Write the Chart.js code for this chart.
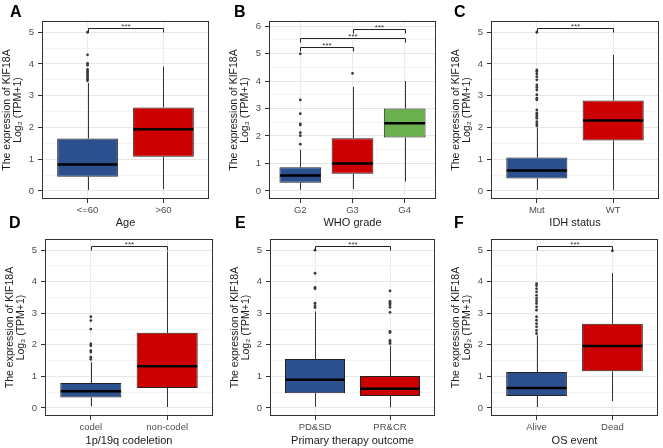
<!DOCTYPE html>
<html>
<head>
<meta charset="utf-8">
<script src="https://cdn.jsdelivr.net/npm/chart.js@4.4.1/dist/chart.umd.min.js"></script>
<style>
  body { margin: 0; width: 663px; height: 448px; background: #fff; position: relative; overflow: hidden; }
  canvas.panel { position: absolute; }
  .tag { position: absolute; font: bold 16px/16px "Liberation Sans", Arial, sans-serif; color: #000; z-index: 5; }
</style>
</head>
<body>
<div class="tag" style="left:10px;top:4px">A</div>
<div class="tag" style="left:234px;top:4px">B</div>
<div class="tag" style="left:454px;top:4px">C</div>
<div class="tag" style="left:9px;top:215px">D</div>
<div class="tag" style="left:235px;top:215px">E</div>
<div class="tag" style="left:454px;top:215px">F</div>

<script>
// box stats: [lower whisker, Q1, median, Q3, upper whisker]
const ageGroups = ['<=60', '>60'];
const ageBoxes = [[0.03, 0.45, 0.83, 1.65, 3.4], [0.05, 1.08, 1.94, 2.63, 3.92]];
const ageOutliers = [[3.47, 3.52, 3.57, 3.62, 3.68, 3.74, 3.78, 3.83, 3.96, 4.02, 4.29, 5.0], []];
const ageSig = [[1, 2, 5.12]];

const gradeGroups = ['G2', 'G3', 'G4'];
const gradeBoxes = [[0.04, 0.30, 0.56, 0.86, 1.5], [0.07, 0.62, 1.0, 1.92, 3.79], [0.34, 1.94, 2.46, 3.0, 4.0]];
const gradeOutliers = [[1.70, 2.01, 2.12, 2.40, 2.44, 2.81, 3.31, 4.99], [4.28], []];
const gradeSig = [[1, 2, 5.25], [1, 3, 5.55], [2, 3, 5.89]];

const idhGroups = ['Mut', 'WT'];
const idhBoxes = [[0.03, 0.39, 0.64, 1.05, 2.0], [0.03, 1.59, 2.22, 2.85, 4.29]];
const idhOutliers = [[2.05, 2.11, 2.18, 2.29, 2.34, 2.39, 2.45, 2.55, 2.87, 2.92, 3.03, 3.18, 3.26, 3.34, 3.50, 3.60, 3.69, 3.76, 3.81, 5.0], []];
const idhSig = [[1, 2, 5.13]];

const codelGroups = ['codel', 'non-codel'];
const codelBoxes = [[0.05, 0.33, 0.53, 0.79, 1.45], [0.03, 0.63, 1.32, 2.38, 4.96]];
const codelOutliers = [[1.54, 1.61, 1.77, 1.82, 1.97, 2.03, 2.5, 2.77, 2.89], []];
const codelSig = [[1, 2, 5.12]];

const therapyGroups = ['PD&SD', 'PR&CR'];
const therapyBoxes = [[0.04, 0.47, 0.89, 1.55, 3.06], [0.02, 0.38, 0.61, 1.01, 1.97]];
const therapyOutliers = [[3.18, 3.24, 3.32, 3.78, 3.82, 4.27, 5.0], [2.04, 2.09, 2.14, 2.39, 2.43, 3.03, 3.19, 3.26, 3.32, 3.38, 3.71]];
const therapySig = [[1, 2, 5.12]];

const osGroups = ['Alive', 'Dead'];
const osBoxes = [[0.03, 0.38, 0.63, 1.14, 2.3], [0.22, 1.16, 1.96, 2.67, 4.28]];
const osOutliers = [[2.36, 2.46, 2.57, 2.67, 2.78, 2.89, 3.1, 3.2, 3.31, 3.39, 3.47, 3.57, 3.68, 3.78, 3.88, 3.94], [4.98]];
const osSig = [[1, 2, 5.13]];

const yTicksTo5 = [0, 0.5, 1, 1.5, 2, 2.5, 3, 3.5, 4, 4.5, 5];
const yTicksTo6 = [0, 0.5, 1, 1.5, 2, 2.5, 3, 3.5, 4, 4.5, 5, 5.5, 6];

const BLUE = '#2C4F8E', RED = '#CC0000', GREEN = '#6AB04C';
const FONT = '"Liberation Sans", Arial, sans-serif';

Chart.defaults.font.family = FONT;

// plot area: [left, right, top, bottom] in page pixels
const panels = [
  { groups: ageGroups, boxes: ageBoxes, outliers: ageOutliers, sig: ageSig, xTitle: 'Age',
    colors: [BLUE, RED], yTicks: yTicksTo5, yMin: -0.255, yMax: 5.355, area: [42, 211, 21, 199], row: 0 },
  { groups: gradeGroups, boxes: gradeBoxes, outliers: gradeOutliers, sig: gradeSig, xTitle: 'WHO grade',
    colors: [BLUE, RED, GREEN], yTicks: yTicksTo6, yMin: -0.295, yMax: 6.185, area: [269, 438, 21, 199], row: 0 },
  { groups: idhGroups, boxes: idhBoxes, outliers: idhOutliers, sig: idhSig, xTitle: 'IDH status',
    colors: [BLUE, RED], yTicks: yTicksTo5, yMin: -0.255, yMax: 5.355, area: [491, 661, 21, 199], row: 0 },
  { groups: codelGroups, boxes: codelBoxes, outliers: codelOutliers, sig: codelSig, xTitle: '1p/19q codeletion',
    colors: [BLUE, RED], yTicks: yTicksTo5, yMin: -0.255, yMax: 5.355, area: [45, 215, 239, 416], row: 1 },
  { groups: therapyGroups, boxes: therapyBoxes, outliers: therapyOutliers, sig: therapySig, xTitle: 'Primary therapy outcome',
    colors: [BLUE, RED], yTicks: yTicksTo5, yMin: -0.255, yMax: 5.355, area: [270, 437, 239, 416], row: 1 },
  { groups: osGroups, boxes: osBoxes, outliers: osOutliers, sig: osSig, xTitle: 'OS event',
    colors: [BLUE, RED], yTicks: yTicksTo5, yMin: -0.255, yMax: 5.355, area: [491, 660, 239, 416], row: 1 }
];

const Y_AXIS_W = 42;

const boxExtras = {
  id: 'boxExtras',
  beforeDatasetsDraw(chart, args, opts) {
    const { ctx } = chart;
    const x = chart.scales.x, y = chart.scales.y;
    ctx.save();
    ctx.strokeStyle = '#333';
    ctx.lineWidth = 1;
    opts.boxes.forEach((b, i) => {
      const px = Math.round(x.getPixelForValue(i + 1)) + 0.5;
      ctx.beginPath();
      ctx.moveTo(px, y.getPixelForValue(b[0]));
      ctx.lineTo(px, y.getPixelForValue(b[1]));
      ctx.moveTo(px, y.getPixelForValue(b[3]));
      ctx.lineTo(px, y.getPixelForValue(b[4]));
      ctx.stroke();
    });
    ctx.restore();
  },
  afterDatasetsDraw(chart, args, opts) {
    const { ctx } = chart;
    const x = chart.scales.x, y = chart.scales.y;
    const meta = chart.getDatasetMeta(0);
    ctx.save();
    // medians
    ctx.strokeStyle = '#000';
    ctx.lineWidth = 2.5;
    meta.data.forEach((bar, i) => {
      const half = bar.width / 2;
      const py = y.getPixelForValue(opts.boxes[i][2]);
      ctx.beginPath();
      ctx.moveTo(bar.x - half + 0.5, py);
      ctx.lineTo(bar.x + half - 0.5, py);
      ctx.stroke();
    });
    // significance brackets
    ctx.strokeStyle = '#222';
    ctx.lineWidth = 1;
    ctx.fillStyle = '#333';
    ctx.font = '8px ' + FONT;
    ctx.textAlign = 'center';
    ctx.textBaseline = 'bottom';
    opts.sig.forEach(s => {
      const x1 = Math.round(x.getPixelForValue(s[0])) + 0.5;
      const x2 = Math.round(x.getPixelForValue(s[1])) + 0.5;
      const py = Math.round(y.getPixelForValue(s[2])) + 0.5;
      ctx.beginPath();
      ctx.moveTo(x1, py + 4);
      ctx.lineTo(x1, py);
      ctx.lineTo(x2, py);
      ctx.lineTo(x2, py + 4);
      ctx.stroke();
      ctx.fillText('***', (x1 + x2) / 2, py + 2);
    });
    ctx.restore();
  },
  afterDraw(chart) {
    const { ctx, chartArea: a } = chart;
    ctx.save();
    ctx.strokeStyle = '#333';
    ctx.lineWidth = 1;
    ctx.strokeRect(a.left + 0.5, a.top + 0.5, a.width - 1, a.height - 1);
    ctx.restore();
  }
};

panels.forEach(p => {
  const [left, right, top, bottom] = p.area;
  const canvasTop = p.row === 0 ? 0 : 222;
  const canvasBottom = p.row === 0 ? 230 : 448;
  const canvasLeft = left - Y_AXIS_W;
  const canvasW = right + 2 - canvasLeft;
  const canvasH = canvasBottom - canvasTop;

  const cv = document.createElement('canvas');
  cv.className = 'panel';
  cv.width = canvasW;
  cv.height = canvasH;
  cv.style.left = canvasLeft + 'px';
  cv.style.top = canvasTop + 'px';
  cv.style.width = canvasW + 'px';
  cv.style.height = canvasH + 'px';
  document.body.appendChild(cv);

  const catTicks = p.groups.map((g, i) => i + 1);

  new Chart(cv, {
    type: 'bar',
    data: {
      datasets: [
        {
          type: 'bar',
          data: p.boxes.map((b, i) => ({ x: i + 1, y: [b[1], b[3]] })),
          backgroundColor: p.colors,
          borderColor: '#222',
          borderWidth: 1,
          borderSkipped: false,
          categoryPercentage: 0.8,
          barPercentage: 1
        },
        {
          type: 'scatter',
          data: p.outliers.flatMap((arr, i) => arr.map(v => ({ x: i + 1, y: v }))),
          pointRadius: 1.4,
          pointBackgroundColor: '#3a3a3a',
          pointBorderWidth: 0
        }
      ]
    },
    options: {
      responsive: false,
      animation: false,
      events: [],
      devicePixelRatio: 1,
      layout: { padding: { left: 0, right: 2, top: top - canvasTop, bottom: 0 } },
      plugins: {
        legend: { display: false },
        tooltip: { enabled: false },
        boxExtras: { boxes: p.boxes, sig: p.sig }
      },
      scales: {
        x: {
          type: 'linear',
          min: 0.4,
          max: p.groups.length + 0.6,
          offset: false,
          afterBuildTicks: s => { s.ticks = catTicks.map(v => ({ value: v })); },
          afterFit: s => { s.height = canvasBottom - bottom; },
          grid: { offset: false, color: '#ebebeb', tickColor: '#333', tickLength: 4 },
          border: { display: false },
          ticks: {
            color: '#4d4d4d', font: { size: 9.5 }, padding: 2, maxRotation: 0,
            callback: v => p.groups[v - 1]
          },
          title: { display: true, text: p.xTitle, color: '#1a1a1a', font: { size: 11, lineHeight: 1.2 }, padding: 0 }
        },
        y: {
          min: p.yMin,
          max: p.yMax,
          afterBuildTicks: s => { s.ticks = p.yTicks.map(v => ({ value: v })); },
          afterFit: s => { s.width = Y_AXIS_W; },
          grid: {
            color: c => (c.tick && c.tick.value % 1 === 0) ? '#e6e6e6' : '#f3f3f3',
            tickColor: c => (c.tick && c.tick.value % 1 === 0) ? '#333' : 'rgba(0,0,0,0)',
            tickLength: 4
          },
          border: { display: false },
          ticks: {
            color: '#4d4d4d', font: { size: 9.5 }, padding: 4,
            callback: v => (v % 1 === 0 ? String(v) : '')
          },
          title: {
            display: true,
            text: ['The expression of KIF18A', 'Log\u2082 (TPM+1)'],
            color: '#1a1a1a',
            font: { size: 10.5, lineHeight: 1.05 },
            padding: { top: 2, bottom: 0 }
          }
        }
      }
    },
    plugins: [boxExtras]
  });
});
</script>
</body>
</html>
